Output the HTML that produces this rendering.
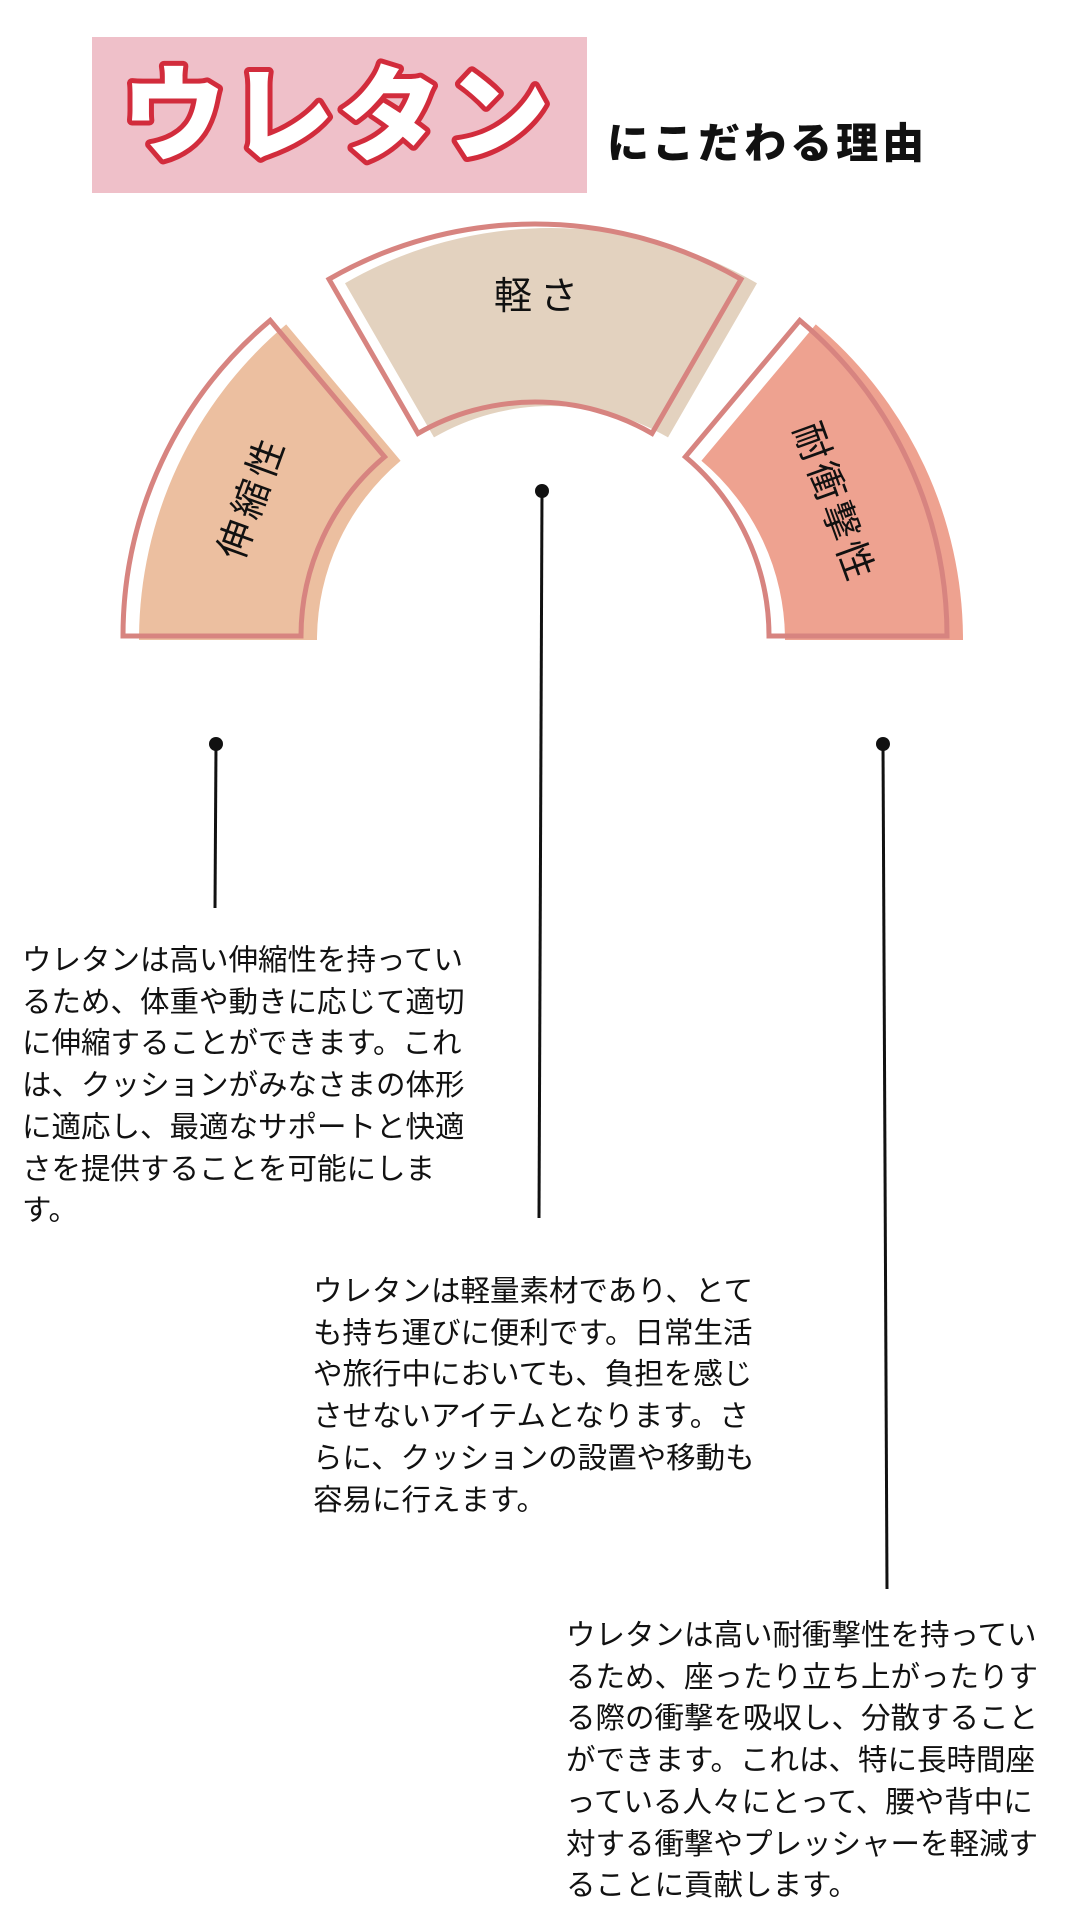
<!DOCTYPE html>
<html><head><meta charset="utf-8"><style>
html,body{margin:0;padding:0;background:#fff;}
body{width:1080px;height:1920px;position:relative;overflow:hidden;font-family:"Liberation Sans","Noto Sans CJK JP",sans-serif;}
.t{position:absolute;font-size:29.5px;line-height:41.7px;color:#111;white-space:nowrap;}
</style></head><body>
<svg width="1080" height="1920" style="position:absolute;left:0;top:0">
<rect x="92" y="37" width="495" height="156" fill="#efc0c9"/>
<text x="338" y="152" text-anchor="middle" font-family="Noto Sans CJK JP, sans-serif" font-weight="900" font-size="104" fill="#fff" stroke="#d22c3c" stroke-width="10" paint-order="stroke" stroke-linejoin="round" letter-spacing="4">ウレタン</text>
<text x="607" y="158" font-family="Noto Sans CJK JP, sans-serif" font-weight="900" font-size="42" fill="#111" letter-spacing="4">にこだわる理由</text>

<g transform="translate(16,4)">
<path d="M123,636 A412,412 0 0 1 270.2,320.4 L384.6,456.8 A234,234 0 0 0 301,636 Z" fill="#ecbfa0"/>
<path d="M329,279.2 A412,412 0 0 1 741,279.2 L652,433.4 A234,234 0 0 0 418,433.4 Z" fill="#e3d2bf"/>
<path d="M799.8,320.4 A412,412 0 0 1 947,636 L769,636 A234,234 0 0 0 685.4,456.8 Z" fill="#eea290"/>
</g>
<g fill="none" stroke="#d78480" stroke-width="5" stroke-linejoin="miter">
<path d="M123,636 A412,412 0 0 1 270.2,320.4 L384.6,456.8 A234,234 0 0 0 301,636 Z"/>
<path d="M329,279.2 A412,412 0 0 1 741,279.2 L652,433.4 A234,234 0 0 0 418,433.4 Z"/>
<path d="M799.8,320.4 A412,412 0 0 1 947,636 L769,636 A234,234 0 0 0 685.4,456.8 Z"/>
</g>
<g font-family="Noto Sans CJK JP, sans-serif" font-size="38" fill="#111" text-anchor="middle">
<text x="540" y="309" letter-spacing="8">軽さ</text>
<text transform="translate(252,497) rotate(-70)" y="13" letter-spacing="5">伸縮性</text>
<text transform="translate(834,503) rotate(70)" y="13" letter-spacing="4">耐衝撃性</text>
</g>
<g stroke="#111" stroke-width="3">
<line x1="216" y1="744" x2="215" y2="908"/>
<line x1="542" y1="491" x2="539" y2="1218"/>
<line x1="883" y1="744" x2="887" y2="1589"/>
</g>
<g fill="#111">
<circle cx="216" cy="744" r="7"/>
<circle cx="542" cy="491" r="7"/>
<circle cx="883" cy="744" r="7"/>
</g>
</svg>
<div class="t" style="left:22px;top:940px">ウレタンは高い伸縮性を持ってい<br>るため、体重や動きに応じて適切<br>に伸縮することができます。これ<br>は、クッションがみなさまの体形<br>に適応し、最適なサポートと快適<br>さを提供することを可能にしま<br>す。</div>
<div class="t" style="left:313px;top:1271px">ウレタンは軽量素材であり、とて<br>も持ち運びに便利です。日常生活<br>や旅行中においても、負担を感じ<br>させないアイテムとなります。さ<br>らに、クッションの設置や移動も<br>容易に行えます。</div>
<div class="t" style="left:566px;top:1615px">ウレタンは高い耐衝撃性を持ってい<br>るため、座ったり立ち上がったりす<br>る際の衝撃を吸収し、分散すること<br>ができます。これは、特に長時間座<br>っている人々にとって、腰や背中に<br>対する衝撃やプレッシャーを軽減す<br>ることに貢献します。</div>
</body></html>
